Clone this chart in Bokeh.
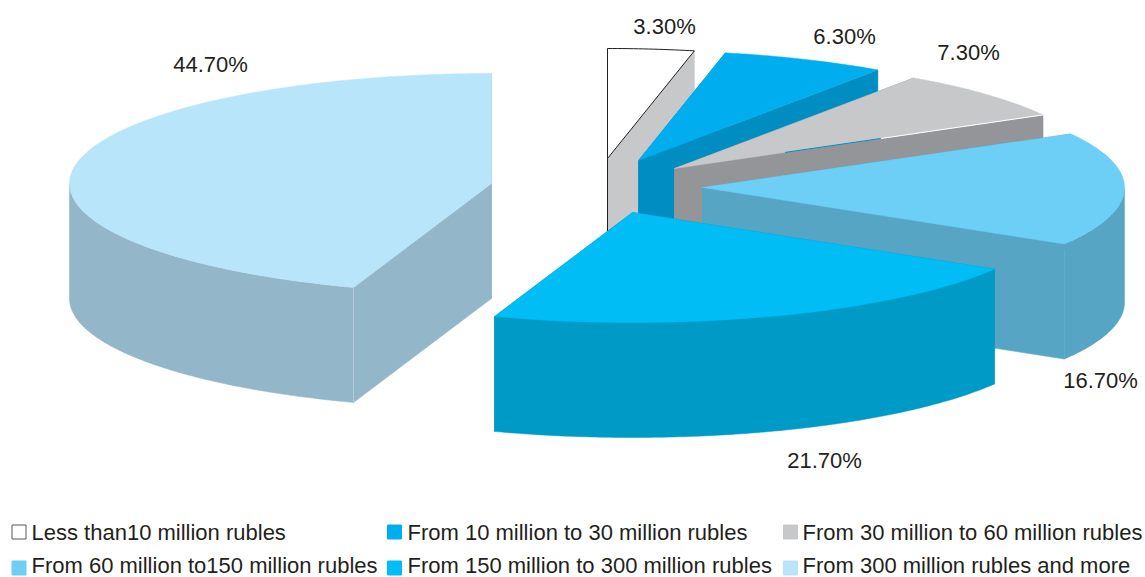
import math
from bokeh.plotting import figure
from bokeh.models import Range1d
from bokeh.core.properties import value
from bokeh.embed import file_html
from bokeh.resources import INLINE

# --- data ---
categories = ["Less than10 million rubles", "From 10 million to 30 million rubles",
              "From 30 million to 60 million rubles", "From 60 million to150 million rubles",
              "From 150 million to 300 million rubles", "From 300 million rubles and more"]
shares = [3.3, 6.3, 7.3, 16.7, 21.7, 44.7]
share_labels = ["3.30%", "6.30%", "7.30%", "16.70%", "21.70%", "44.70%"]
top_colors = ["#ffffff", "#00aeef", "#c7c8ca", "#6dcff6", "#00bdf6", "#b9e5fb"]
side_colors = ["#c7c8ca", "#008dc2", "#939598", "#56a5c5", "#009ac6", "#94b6c9"]

# --- layout (screen-pixel coordinates) ---
centers = [(607, 158), (638, 160), (674, 168), (702, 187), (632, 212), (491, 183)]
RX, RY, DEPTH = 422, 110, 115
label_xy = [(664, 26), (844, 36), (968, 52), (1100, 380), (824, 460), (210, 64)]
legend_x = [18.5, 394, 790]
legend_text_x = [31, 407, 802]
legend_y = [531.5, 567.5]
legend_text_y = [531.5, 565]
INK = "#231f20"
FONT = value("Liberation Sans")

p = figure(width=1145, height=577, x_range=Range1d(0, 1145), y_range=Range1d(577, 0),
           x_axis_location=None, y_axis_location=None, toolbar_location=None,
           output_backend="svg", min_border=0, outline_line_color=None)
p.grid.visible = False


def pt(c, deg):
    a = math.radians(deg)
    return c[0] + RX * math.sin(a), c[1] - RY * math.cos(a)


start = 0.0
total = sum(shares)
for i, s in enumerate(shares):
    end = start + 360.0 * s / total
    c = centers[i]
    n = max(4, int((end - start) * 1.5))
    degs = [start + (end - start) * k / n for k in range(n + 1)]
    arc = [pt(c, d) for d in degs]
    # radial cut faces
    for e in (arc[0], arc[-1]):
        p.patch([c[0], e[0], e[0], c[0]], [c[1], e[1], e[1] + DEPTH, c[1] + DEPTH],
                fill_color=side_colors[i], line_color=side_colors[i], line_width=0.5)
    # outer rim (front half only)
    front = [d for d in degs if 90 <= d <= 270]
    if front:
        fa = [pt(c, d) for d in front]
        xs = [q[0] for q in fa] + [q[0] for q in reversed(fa)]
        ys = [q[1] for q in fa] + [q[1] + DEPTH for q in reversed(fa)]
        p.patch(xs, ys, fill_color=side_colors[i], line_color=side_colors[i], line_width=0.5)
    # top face
    xs = [c[0]] + [q[0] for q in arc]
    ys = [c[1]] + [q[1] for q in arc]
    outlined = i == 0
    p.patch(xs, ys, fill_color=top_colors[i],
            line_color=INK if outlined else top_colors[i],
            line_width=1 if outlined else 0.5)
    if outlined:
        p.line([c[0], c[0]], [c[1], c[1] + DEPTH], line_color=INK, line_width=1)
    if i == 2:
        # thin blue then white highlight along the lower cut edge of the grey slice
        e = arc[-1]
        for f0, f1, col in ((0.3, 0.56, "#008dc2"), (0.56, 1.0, "#ffffff")):
            p.line([c[0] + f0 * (e[0] - c[0]), c[0] + f1 * (e[0] - c[0])],
                   [c[1] + f0 * (e[1] - c[1]), c[1] + f1 * (e[1] - c[1])],
                   line_color=col, line_width=1)
    if i == 5:
        e = arc[0]
        p.line([e[0], e[0]], [e[1], e[1] + DEPTH], line_color="#b7ccd9", line_width=1)
    start = end

# percentage labels
p.text([q[0] for q in label_xy], [q[1] for q in label_xy], text=share_labels,
       text_font=FONT, text_font_size="22px", text_color=INK,
       text_align="center", text_baseline="middle")

# legend
for i, name in enumerate(categories):
    x = legend_x[i % 3]
    y = legend_y[i // 3]
    p.rect([x], [y], width=14, height=14, fill_color=top_colors[i],
           line_color="#58595b" if i == 0 else top_colors[i], line_width=1)
    p.text([legend_text_x[i % 3]], [legend_text_y[i // 3]], text=[name], text_font=FONT,
           text_font_size="22px", text_color=INK, text_align="left", text_baseline="middle")

open("out.html", "w").write(file_html(p, INLINE))
